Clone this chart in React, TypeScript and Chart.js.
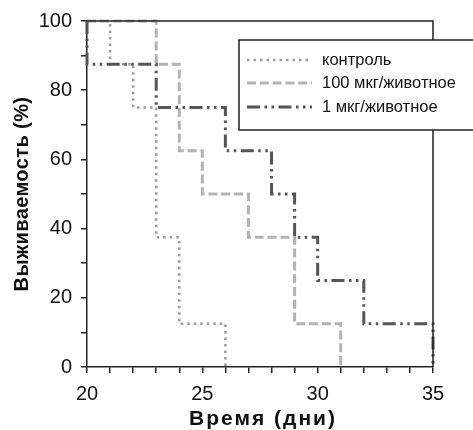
import React, { useEffect, useRef } from "react";
import { Chart, registerables } from "chart.js";

Chart.register(...registerables);

const seriesNames = ["контроль", "100 мкг/животное", "1 мкг/животное"];
const controlDays = [20, 21, 22, 23, 24, 26];
const controlSurvival = [100, 87.5, 75, 37.5, 12.5, 0];
const dose100Days = [20, 23, 24, 25, 27, 29, 31];
const dose100Survival = [100, 87.5, 62.5, 50, 37.5, 12.5, 0];
const dose1Days = [20, 20, 23, 26, 28, 29, 30, 32, 35];
const dose1Survival = [100, 87.5, 75, 62.5, 50, 37.5, 25, 12.5, 0];
const xMajorLabels = [20, 25, 30, 35];
const yMajorLabels = [0, 20, 40, 60, 80, 100];
const xTitle = "Время (дни)";
const yTitle = "Выживаемость (%)";

const FONT = 'Arial, "Liberation Sans", sans-serif';
const AXIS = "#222";

const styles = [
  { color: "#9a9a9a", width: 2.5, dash: [2.5, 4] },
  { color: "#b3b3b3", width: 3, dash: [9, 3.8] },
  { color: "#555555", width: 3, dash: [13, 4.5, 2.5, 4.5, 2.5, 4.5] },
];

function toPoints(xs: number[], ys: number[]) {
  return xs.map((x, i) => ({ x, y: ys[i] }));
}

const framePlugin = {
  id: "frame",
  afterDatasetsDraw(chart: any) {
    const { ctx, chartArea } = chart;
    const { left, right, top, bottom } = chartArea;
    ctx.save();
    ctx.strokeStyle = AXIS;
    ctx.lineWidth = 1.5;
    ctx.beginPath();
    ctx.moveTo(left, top);
    ctx.lineTo(right, top);
    ctx.lineTo(right, bottom);
    ctx.stroke();
    ctx.restore();
  },
  afterDraw(chart: any) {
    const { ctx, chartArea } = chart;
    // axis titles
    ctx.save();
    ctx.fillStyle = "#111";
    ctx.textAlign = "center";
    ctx.textBaseline = "middle";
    ctx.font = `bold 21px ${FONT}`;
    (ctx as any).letterSpacing = "2px";
    ctx.fillText(xTitle, (chartArea.left + chartArea.right) / 2 + 3, 419);
    ctx.translate(22, (chartArea.top + chartArea.bottom) / 2);
    ctx.rotate(-Math.PI / 2);
    ctx.font = `bold 20px ${FONT}`;
    (ctx as any).letterSpacing = "0.4px";
    ctx.fillText(yTitle, 0, 0);
    ctx.restore();

    // legend
    const bx = 239, by = 40, bw = 250, bh = 90;
    ctx.save();
    ctx.fillStyle = "#fff";
    ctx.fillRect(bx, by, bw, bh);
    ctx.strokeStyle = AXIS;
    ctx.lineWidth = 1.5;
    ctx.strokeRect(bx, by, bw, bh);
    const rowY = [60, 83, 107];
    seriesNames.forEach((name, i) => {
      const s = styles[i];
      ctx.strokeStyle = s.color;
      ctx.lineWidth = s.width;
      ctx.setLineDash(s.dash);
      ctx.beginPath();
      ctx.moveTo(247, rowY[i]);
      ctx.lineTo(312, rowY[i]);
      ctx.stroke();
      ctx.setLineDash([]);
      ctx.fillStyle = "#111";
      ctx.font = `16.5px ${FONT}`;
      ctx.textBaseline = "middle";
      ctx.textAlign = "left";
      ctx.fillText(name, 322, rowY[i]);
    });
    ctx.restore();
  },
};

export default function App() {
  const ref = useRef<HTMLCanvasElement>(null);
  useEffect(() => {
    document.body.style.margin = "0";
    const datasets = [
      toPoints(controlDays, controlSurvival),
      toPoints(dose100Days, dose100Survival),
      toPoints(dose1Days, dose1Survival),
    ].map((data, i) => ({
      label: seriesNames[i],
      data,
      borderColor: styles[i].color,
      borderWidth: styles[i].width,
      borderDash: styles[i].dash,
      stepped: true,
      pointRadius: 0,
      fill: false,
      clip: 6,
      order: 2 - i,
    }));
    const chart = new Chart(ref.current!, {
      type: "line",
      data: { datasets },
      plugins: [framePlugin],
      options: {
        animation: false,
        responsive: false,
        devicePixelRatio: 1,
        layout: { padding: { left: 0, top: 20, right: 40, bottom: 0 } },
        plugins: { legend: { display: false }, tooltip: { enabled: false } },
        scales: {
          x: {
            type: "linear",
            min: 20,
            max: 35,
            afterFit: (s: any) => { s.height = 63; },
            ticks: {
              stepSize: 1,
              autoSkip: false,
              maxRotation: 0,
              padding: 9,
              color: "#111",
              font: { family: FONT, size: 20 },
              callback: (v: any) => (xMajorLabels.includes(Number(v)) ? String(v) : ""),
            },
            grid: { display: true, drawOnChartArea: false, drawTicks: true, tickLength: 6, color: AXIS, lineWidth: 1.5 },
            border: { display: true, color: AXIS, width: 1.5 },
          },
          y: {
            type: "linear",
            min: 0,
            max: 100,
            afterFit: (s: any) => { s.width = 87; },
            ticks: {
              stepSize: 10,
              autoSkip: false,
              padding: 9,
              color: "#111",
              font: { family: FONT, size: 20 },
              callback: (v: any) => (yMajorLabels.includes(Number(v)) ? String(v) : ""),
            },
            grid: { display: true, drawOnChartArea: false, drawTicks: true, tickLength: 6, color: AXIS, lineWidth: 1.5 },
            border: { display: true, color: AXIS, width: 1.5 },
          },
        },
      },
    });
    return () => chart.destroy();
  }, []);
  return <canvas ref={ref} width={473} height={430} style={{ display: "block" }} />;
}
